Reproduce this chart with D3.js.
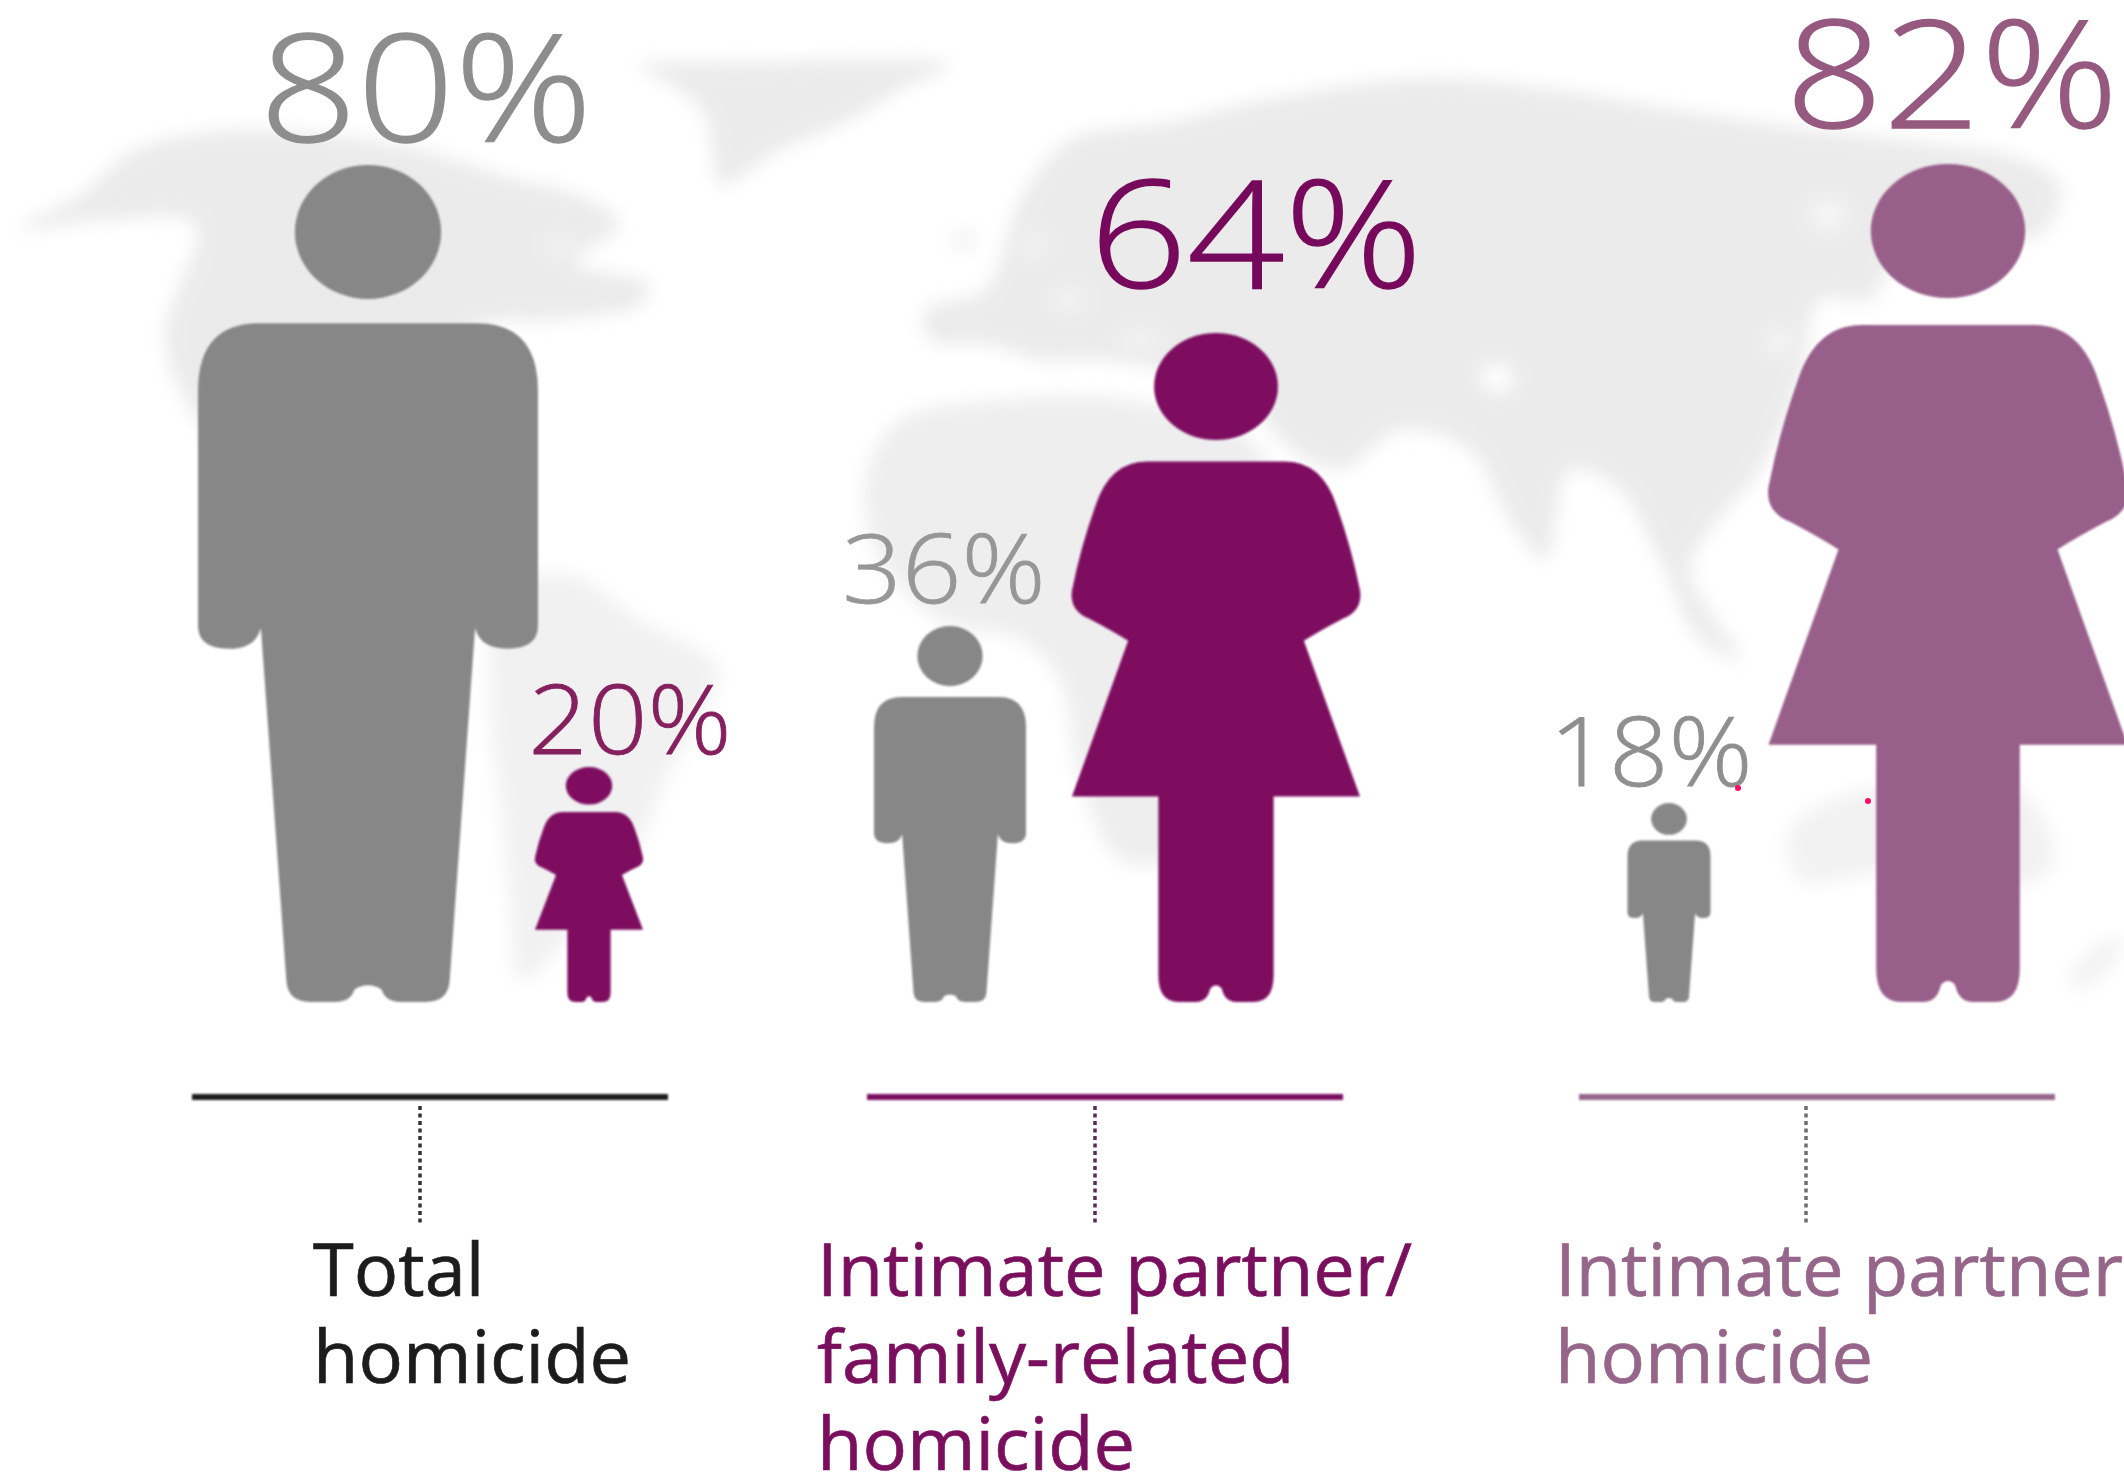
<!DOCTYPE html>
<html>
<head>
<meta charset="utf-8">
<style>
html,body{margin:0;padding:0;background:#fff;overflow:hidden}
text{font-family:"Open Sans",sans-serif}
</style>
<script src="https://cdnjs.cloudflare.com/ajax/libs/d3/7.8.5/d3.min.js"></script>
</head>
<body>
<script>
// ---------- data ----------
const categories = ["Total homicide", "Intimate partner/family-related homicide", "Intimate partner homicide"];
const categoryLines = [["Total", "homicide"], ["Intimate partner/", "family-related", "homicide"], ["Intimate partner", "homicide"]];
const maleShare = [80, 36, 18];
const femaleShare = [20, 64, 82];
const sexes = ["male", "female"];

// ---------- background map outlines ----------
const mapNorthAmerica = [[20,228],[80,195],[135,150],[230,130],[330,135],[420,150],[500,175],[590,200],[620,225],[575,262],[650,285],[640,305],[560,320],[470,330],[440,420],[400,520],[300,480],[215,440],[165,340],[195,225],[110,220]];
const mapSouthAmerica = [[500,590],[570,575],[640,620],[718,668],[700,720],[670,770],[640,840],[590,900],[550,960],[520,980],[510,900],[500,800],[490,700]];
const mapGreenland = [[640,66],[750,62],[950,65],[900,90],[850,120],[780,150],[720,185],[712,150],[705,115],[680,90]];
const mapEurasia = [[930,340],[925,310],[985,290],[1020,200],[1070,140],[1170,122],[1263,100],[1424,78],[1560,90],[1666,108],[1787,126],[1900,140],[2013,157],[2060,185],[2040,235],[1960,230],[1900,250],[1870,300],[1820,300],[1800,380],[1760,470],[1710,530],[1690,570],[1740,660],[1700,640],[1660,560],[1620,490],[1570,470],[1545,560],[1510,520],[1470,450],[1400,430],[1340,470],[1280,440],[1240,380],[1170,370],[1100,360],[1040,360],[990,345]];
const mapAfrica = [[900,420],[1000,400],[1130,400],[1250,440],[1290,500],[1330,510],[1290,590],[1260,680],[1240,780],[1170,860],[1120,860],[1080,780],[1060,680],[1020,640],[940,620],[880,560],[865,480]];
const mapAustralia = [[1790,830],[1860,790],[1930,790],[1990,770],[2050,830],[2050,870],[2000,890],[1900,870],[1800,880]];
const mapZealand = [[2070,975],[2118,935],[2118,955],[2080,990]];
const mapOutlines = [mapNorthAmerica, mapSouthAmerica, mapGreenland, mapEurasia, mapAfrica, mapAustralia, mapZealand];
const mapTints = ["#ebebeb", "#f1f1f1", "#ebebeb", "#ebebeb", "#eeeeee", "#f2f2f2", "#f2f2f2"];
const mapHoles = [[1497,378,16,14,"#ffffff"],[1828,215,18,16,"#f6f6f6"],[1779,342,12,12,"#f6f6f6"],[965,240,14,12,"#f4f4f4"],[1070,300,16,10,"#f4f4f4"],[1035,245,12,10,"#f4f4f4"],[1140,340,22,8,"#f4f4f4"],[560,245,14,8,"#f4f4f4"]];

// ---------- scales ----------
const W = 2124, H = 1478, baseY = 1002;
const key = (c, s) => c + "|" + s;
const figureKeys = categories.flatMap(c => sexes.map(s => key(c, s)));
const figureX = d3.scaleOrdinal(figureKeys, [368, 589, 950, 1216, 1669, 1948]);
const labelX = d3.scaleOrdinal(figureKeys, [426, 630, 944, 1256, 1651, 1952]);
const labelBase = d3.scaleOrdinal(figureKeys, [142, 754, 603, 288, 786, 128]);
const figH = d3.scaleLinear([18, 20, 36, 64, 80, 82], [199, 235, 376, 669, 837, 838]);
const figW = d3.scaleLinear([18, 20, 36, 64, 80, 82], [83, 108, 152, 288, 340, 359]);
const labelSize = d3.scaleThreshold([50], [95, 150]);
const labelStretch = d3.scaleThreshold([50], [2.14, 2.22]);
const ruleStart = d3.scaleOrdinal(categories, [192, 867, 1579]);
const dotX = d3.scaleOrdinal(categories, [420, 1095, 1806]);
const textX = d3.scaleOrdinal(categories, [313, 817, 1555]);
const catColor = d3.scaleOrdinal(categories, ["#1c1c1c", "#7a0f5e", "#96668a"]);
const dotColor = d3.scaleOrdinal(categories, ["#333333", "#5c2a50", "#6e6e6e"]);
const fillColor = d3.scaleOrdinal(figureKeys, ["#878787", "#7e0a60", "#878787", "#7e0a60", "#878787", "#985e8a"]);
const labelColor = d3.scaleOrdinal(figureKeys, ["#8d8d8d", "#85205f", "#979797", "#76095b", "#8f8f8f", "#96597f"]);

// ---------- svg ----------
const svg = d3.select("body").append("svg").attr("width", W).attr("height", H).style("display", "block");
const defs = svg.append("defs");
defs.append("filter").attr("id", "mapBlur").attr("x", "-10%").attr("y", "-10%").attr("width", "120%").attr("height", "120%")
  .append("feGaussianBlur").attr("stdDeviation", 9);
defs.append("filter").attr("id", "soft").attr("filterUnits", "userSpaceOnUse")
  .attr("x", 0).attr("y", 0).attr("width", W).attr("height", H)
  .append("feGaussianBlur").attr("stdDeviation", 1);
svg.append("rect").attr("width", W).attr("height", H).attr("fill", "#fff");

// map
const mapLine = d3.line().curve(d3.curveCatmullRomClosed.alpha(0.5));
const mapG = svg.append("g").attr("filter", "url(#mapBlur)");
mapG.selectAll("path").data(mapOutlines).join("path").attr("d", mapLine).attr("fill", (d, i) => mapTints[i]);
mapG.selectAll("ellipse").data(mapHoles).join("ellipse")
  .attr("cx", d => d[0]).attr("cy", d => d[1]).attr("rx", d => d[2]).attr("ry", d => d[3]).attr("fill", d => d[4]);

// figure paths in unit coordinates: u across (-.5..+.5), t down (0..1)
const bodyMale = [["M",-.32,.189],["L",.32,.189],["Q",.5,.189,.5,.27],["L",.5,.55],["Q",.5,.578,.41,.578],["Q",.33,.578,.315,.553],["L",.24,.975],["Q",.235,1,.17,1],["L",.10,1],["Q",.05,1,.04,.985],["Q",0,.975,-.04,.985],["Q",-.05,1,-.10,1],["L",-.17,1],["Q",-.235,1,-.24,.975],["L",-.315,.553],["Q",-.33,.578,-.41,.578],["Q",-.5,.578,-.5,.55],["L",-.5,.27],["Q",-.5,.189,-.32,.189]];
const bodyFemale = [["M",-.24,.192],["L",.24,.192],["Q",.37,.192,.42,.26],["Q",.47,.32,.5,.385],["Q",.51,.415,.44,.427],["Q",.36,.445,.305,.46],["L",.5,.693],["L",.2,.693],["L",.2,.96],["Q",.2,1,.13,1],["L",.07,1],["Q",.03,1,.02,.98],["Q",0,.97,-.02,.98],["Q",-.03,1,-.07,1],["L",-.13,1],["Q",-.2,1,-.2,.96],["L",-.2,.693],["L",-.5,.693],["L",-.305,.46],["Q",-.36,.445,-.44,.427],["Q",-.51,.415,-.5,.385],["Q",-.47,.32,-.42,.26],["Q",-.37,.192,-.24,.192]];

function bodyPath(template, cx, w, h) {
  const X = u => cx + u * w, Y = t => baseY - h + t * h, p = d3.path();
  template.forEach(c => {
    if (c[0] === "M") p.moveTo(X(c[1]), Y(c[2]));
    else if (c[0] === "L") p.lineTo(X(c[1]), Y(c[2]));
    else p.quadraticCurveTo(X(c[1]), Y(c[2]), X(c[3]), Y(c[4]));
  });
  p.closePath();
  return p.toString();
}

const figures = categories.flatMap((c, i) => [
  {cat: c, sex: "male", value: maleShare[i]},
  {cat: c, sex: "female", value: femaleShare[i]}
]).map(d => ({...d, k: key(d.cat, d.sex), w: figW(d.value), h: figH(d.value)}));

const figG = svg.append("g").attr("filter", "url(#soft)");
figG.selectAll("path").data(figures).join("path")
  .attr("d", d => bodyPath(d.sex === "male" ? bodyMale : bodyFemale, figureX(d.k), d.w, d.h))
  .attr("fill", d => fillColor(d.k));
figG.selectAll("ellipse").data(figures).join("ellipse")
  .attr("cx", d => figureX(d.k))
  .attr("cy", d => baseY - d.h + 0.08 * d.h)
  .attr("rx", d => 0.215 * d.w)
  .attr("ry", d => 0.08 * d.h)
  .attr("fill", d => fillColor(d.k));

// value labels
svg.append("g").selectAll("text").data(figures).join("text")
  .attr("x", d => labelX(d.k))
  .attr("y", d => labelBase(d.k))
  .attr("text-anchor", "middle")
  .attr("font-weight", 300)
  .attr("font-size", d => labelSize(d.value))
  .attr("textLength", d => labelSize(d.value) * labelStretch(d.value))
  .attr("lengthAdjust", "spacingAndGlyphs")
  .attr("fill", d => labelColor(d.k))
  .attr("stroke", d => labelColor(d.k))
  .attr("stroke-width", d => labelSize(d.value) > 100 ? 1.4 : 0.8)
  .text(d => d.value + "%");

// rules, dotted connectors, category text
const ruleW = 476;
const ruleG = svg.append("g").attr("filter", "url(#soft)");
ruleG.selectAll("line.rule").data(categories).join("line").attr("class", "rule")
  .attr("x1", d => ruleStart(d)).attr("x2", d => ruleStart(d) + ruleW)
  .attr("y1", 1097).attr("y2", 1097)
  .attr("stroke", catColor).attr("stroke-width", 6);
svg.append("g").selectAll("line.dot").data(categories).join("line").attr("class", "dot")
  .attr("x1", dotX).attr("x2", dotX)
  .attr("y1", 1106).attr("y2", 1224)
  .attr("stroke", dotColor).attr("stroke-width", 3.5).attr("stroke-dasharray", "4,3.5");

const lineBases = [1296, 1383, 1470];
categories.forEach((c, i) => {
  svg.append("g").selectAll("text").data(categoryLines[i]).join("text")
    .attr("x", textX(c))
    .attr("y", (d, j) => lineBases[j])
    .attr("font-size", 74)
    .attr("fill", catColor(c))
    .attr("stroke", catColor(c))
    .attr("stroke-width", 0.7)
    .text(d => d);
});

// two stray magenta specks present in the source image
const speckX = [1738, 1868], speckY = [788, 801];
svg.append("g").selectAll("circle").data(speckX).join("circle")
  .attr("cx", d => d).attr("cy", (d, i) => speckY[i]).attr("r", 3).attr("fill", "#ff0a66");
</script>
</body>
</html>
